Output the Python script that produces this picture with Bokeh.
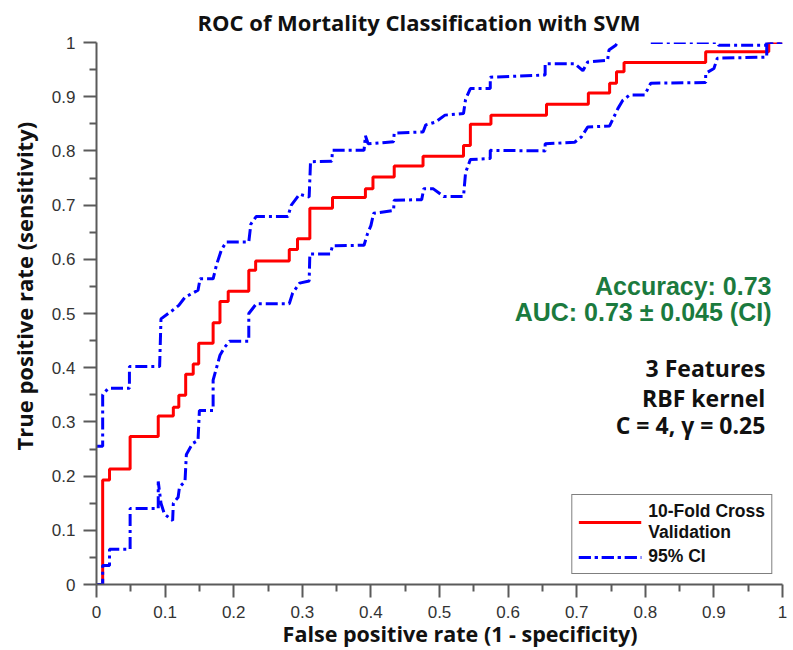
from bokeh.plotting import figure
from bokeh.models import Range1d, FixedTicker, Label, Legend, LegendItem, Title
from bokeh.embed import file_html
from bokeh.resources import INLINE

NaN = float("nan")

# ---- texts ----
title_text = "ROC of Mortality Classification with SVM"
x_title = "False positive rate (1 - specificity)"
y_title = "True positive rate (sensitivity)"
metric_lines = ["Accuracy: 0.73", "AUC: 0.73 \u00b1 0.045 (CI)"]
model_lines = ["3 Features", "RBF kernel", "C = 4, \u03b3 = 0.25"]
legend_labels = ["10-Fold Cross\nValidation", "95% CI"]

# ---- ticks ----
tick_values = [0, 0.1, 0.2, 0.3, 0.4, 0.5, 0.6, 0.7, 0.8, 0.9, 1]
tick_labels = ["0", "0.1", "0.2", "0.3", "0.4", "0.5", "0.6", "0.7", "0.8", "0.9", "1"]
minor_values = [0.05, 0.15, 0.25, 0.35, 0.45, 0.55, 0.65, 0.75, 0.85, 0.95]

# ---- ROC (10-fold CV), step curve ----
roc_fpr = [0, 0.009, 0.019, 0.049, 0.09, 0.112, 0.12, 0.13, 0.141, 0.149, 0.17, 0.18,
           0.192, 0.222, 0.232, 0.281, 0.293, 0.311, 0.344, 0.392, 0.403, 0.434, 0.476,
           0.535, 0.545, 0.575, 0.656, 0.717, 0.748, 0.758, 0.769, 0.888, 0.98, 1.0]
roc_tpr = [0, 0.193, 0.213, 0.273, 0.311, 0.327, 0.349, 0.388, 0.407, 0.445, 0.483, 0.522,
           0.541, 0.58, 0.597, 0.618, 0.638, 0.694, 0.714, 0.73, 0.752, 0.772, 0.79,
           0.81, 0.849, 0.866, 0.886, 0.907, 0.925, 0.946, 0.963, 0.983, 1.0, 1.0]

# ---- 95% CI upper bound ----
ci_up_fpr = [0, 0.009, 0.009, 0.017, 0.048, 0.048, 0.092, 0.094, 0.111, 0.12, 0.129, 0.148,
             0.151, 0.17, 0.175, 0.182, 0.189, 0.222, 0.225, 0.233, 0.279, 0.284, 0.296,
             0.31, 0.312, 0.343, 0.344, 0.39, 0.392, 0.396, 0.433, 0.434, 0.476, 0.48,
             0.494, 0.508, 0.535, 0.538, 0.545, 0.574, 0.574, 0.654, 0.654, 0.697, 0.709,
             0.716, 0.745, 0.747, 0.757, 0.76, NaN, 0.808, 0.885, 0.905, 0.907, 0.977,
             0.977, 1.0]
ci_up_tpr = [0.255, 0.255, 0.35, 0.362, 0.362, 0.402, 0.402, 0.49, 0.506, 0.515, 0.53, 0.543,
             0.564, 0.564, 0.59, 0.617, 0.632, 0.632, 0.665, 0.679, 0.679, 0.70, 0.72,
             0.715, 0.78, 0.781, 0.801, 0.801, 0.828, 0.813, 0.817, 0.833, 0.835, 0.848,
             0.853, 0.866, 0.869, 0.895, 0.915, 0.915, 0.936, 0.94, 0.961, 0.961, 0.948,
             0.964, 0.967, 0.986, 0.995, 1.0, NaN, 1.0, 1.0, 1.0, 0.995, 0.995,
             1.0, 1.0]

# ---- 95% CI lower bound ----
ci_lo_fpr = [0, 0.009, 0.009, 0.019, 0.019, 0.049, 0.049, 0.09, 0.09, 0.094, 0.099, 0.111,
             0.112, 0.119, 0.121, 0.129, 0.131, 0.14, 0.148, 0.15, 0.17, 0.17, 0.18, 0.187,
             0.194, 0.222, 0.222, 0.233, 0.281, 0.286, 0.296, 0.31, 0.311, 0.341, 0.344,
             0.39, 0.395, 0.4, 0.404, 0.433, 0.434, 0.474, 0.477, 0.491, 0.506, 0.535,
             0.538, 0.545, 0.574, 0.574, 0.654, 0.654, 0.697, 0.707, 0.716, 0.748, 0.76,
             0.767, 0.777, 0.799, 0.808, 0.888, 0.888, 0.90, 0.905, 0.977, 0.977, 1.0]
ci_lo_tpr = [0, 0, 0.035, 0.035, 0.065, 0.065, 0.14, 0.14, 0.19, 0.15, 0.13, 0.118,
             0.15, 0.161, 0.18, 0.19, 0.24, 0.26, 0.266, 0.321, 0.321, 0.377, 0.423, 0.438,
             0.449, 0.449, 0.50, 0.518, 0.518, 0.538, 0.556, 0.56, 0.61, 0.61, 0.625,
             0.626, 0.647, 0.662, 0.685, 0.69, 0.709, 0.71, 0.73, 0.73, 0.716, 0.716,
             0.76, 0.784, 0.786, 0.801, 0.80, 0.813, 0.816, 0.826, 0.844, 0.846, 0.878,
             0.893, 0.903, 0.903, 0.925, 0.926, 0.943, 0.952, 0.971, 0.973, 1.0, 1.0]

HEAD = "Open Sans"
NUM = "Liberation Sans"
INK = "#111111"

main_title = Title(text=title_text, align="left", offset=101, standoff=8,
                   vertical_align="top", text_font=HEAD, text_font_style="bold",
                   text_font_size="22px", text_color=INK)

p = figure(width=793, height=650, output_backend="svg", toolbar_location=None,
           title=main_title,
           x_range=Range1d(0, 1), y_range=Range1d(0, 1),
           min_border_left=93, min_border_right=11, min_border_top=42, min_border_bottom=66)
p.outline_line_color = None
p.grid.visible = False
p.background_fill_color = "white"
p.border_fill_color = "white"

overrides = {v: t for v, t in zip(tick_values, tick_labels)}
for ax in (p.xaxis[0], p.yaxis[0]):
    ax.ticker = FixedTicker(ticks=tick_values, minor_ticks=minor_values)
    ax.major_label_overrides = overrides
    ax.axis_line_color = "#5a5a5a"
    ax.axis_line_width = 2
    ax.major_tick_line_color = "#5a5a5a"
    ax.major_tick_line_width = 2
    ax.minor_tick_line_color = "#5a5a5a"
    ax.minor_tick_line_width = 2
    ax.major_tick_out = 13
    ax.major_tick_in = 0
    ax.minor_tick_out = 7
    ax.minor_tick_in = 0
    ax.major_label_text_font = NUM
    ax.major_label_text_font_size = "17px"
    ax.major_label_text_color = "#333333"
    ax.major_label_standoff = 8

# axis titles as side titles (placed outside the axes)
p.add_layout(Title(text=x_title, align="right", offset=145, standoff=-8,
                   vertical_align="bottom", text_font=HEAD, text_font_style="bold",
                   text_font_size="21.5px", text_color=INK), "below")
p.add_layout(Title(text=y_title, align="left", offset=134, standoff=16,
                   vertical_align="top", text_font=HEAD, text_font_style="bold",
                   text_font_size="22px", text_color=INK), "left")

r_roc = p.step(roc_fpr, roc_tpr, mode="after", line_color="#ff0000", line_width=3)
r_up = p.line(ci_up_fpr, ci_up_tpr, line_color="#0000ff", line_width=3, line_dash="12 4 3 4")
r_lo = p.line(ci_lo_fpr, ci_lo_tpr, line_color="#0000ff", line_width=3, line_dash="12 4 3 4")

legend = Legend(items=[LegendItem(label=legend_labels[0], renderers=[r_roc]),
                       LegendItem(label=legend_labels[1], renderers=[r_up, r_lo])],
                location="bottom_right", margin=10, padding=6, spacing=3,
                glyph_width=63, glyph_height=20, label_standoff=7,
                label_text_font=NUM, label_text_font_style="bold",
                label_text_font_size="17.5px", label_text_color=INK,
                label_text_line_height=1.3,
                border_line_color="#000000", border_line_width=1.5,
                background_fill_alpha=1.0)
p.add_layout(legend)

metric_y = [0.551, 0.503]
for t, yy in zip(metric_lines, metric_y):
    p.add_layout(Label(x=0.984, y=yy, text=t, text_align="right", text_baseline="alphabetic",
                       text_font=NUM, text_font_style="bold", text_font_size="25px",
                       text_color="#1b7a3e"))

model_y = [0.399, 0.344, 0.295]
for t, yy in zip(model_lines, model_y):
    p.add_layout(Label(x=0.975, y=yy, text=t, text_align="right", text_baseline="alphabetic",
                       text_font=HEAD, text_font_style="bold", text_font_size="23px",
                       text_color=INK))

open("out.html", "w").write(file_html(p, INLINE))
